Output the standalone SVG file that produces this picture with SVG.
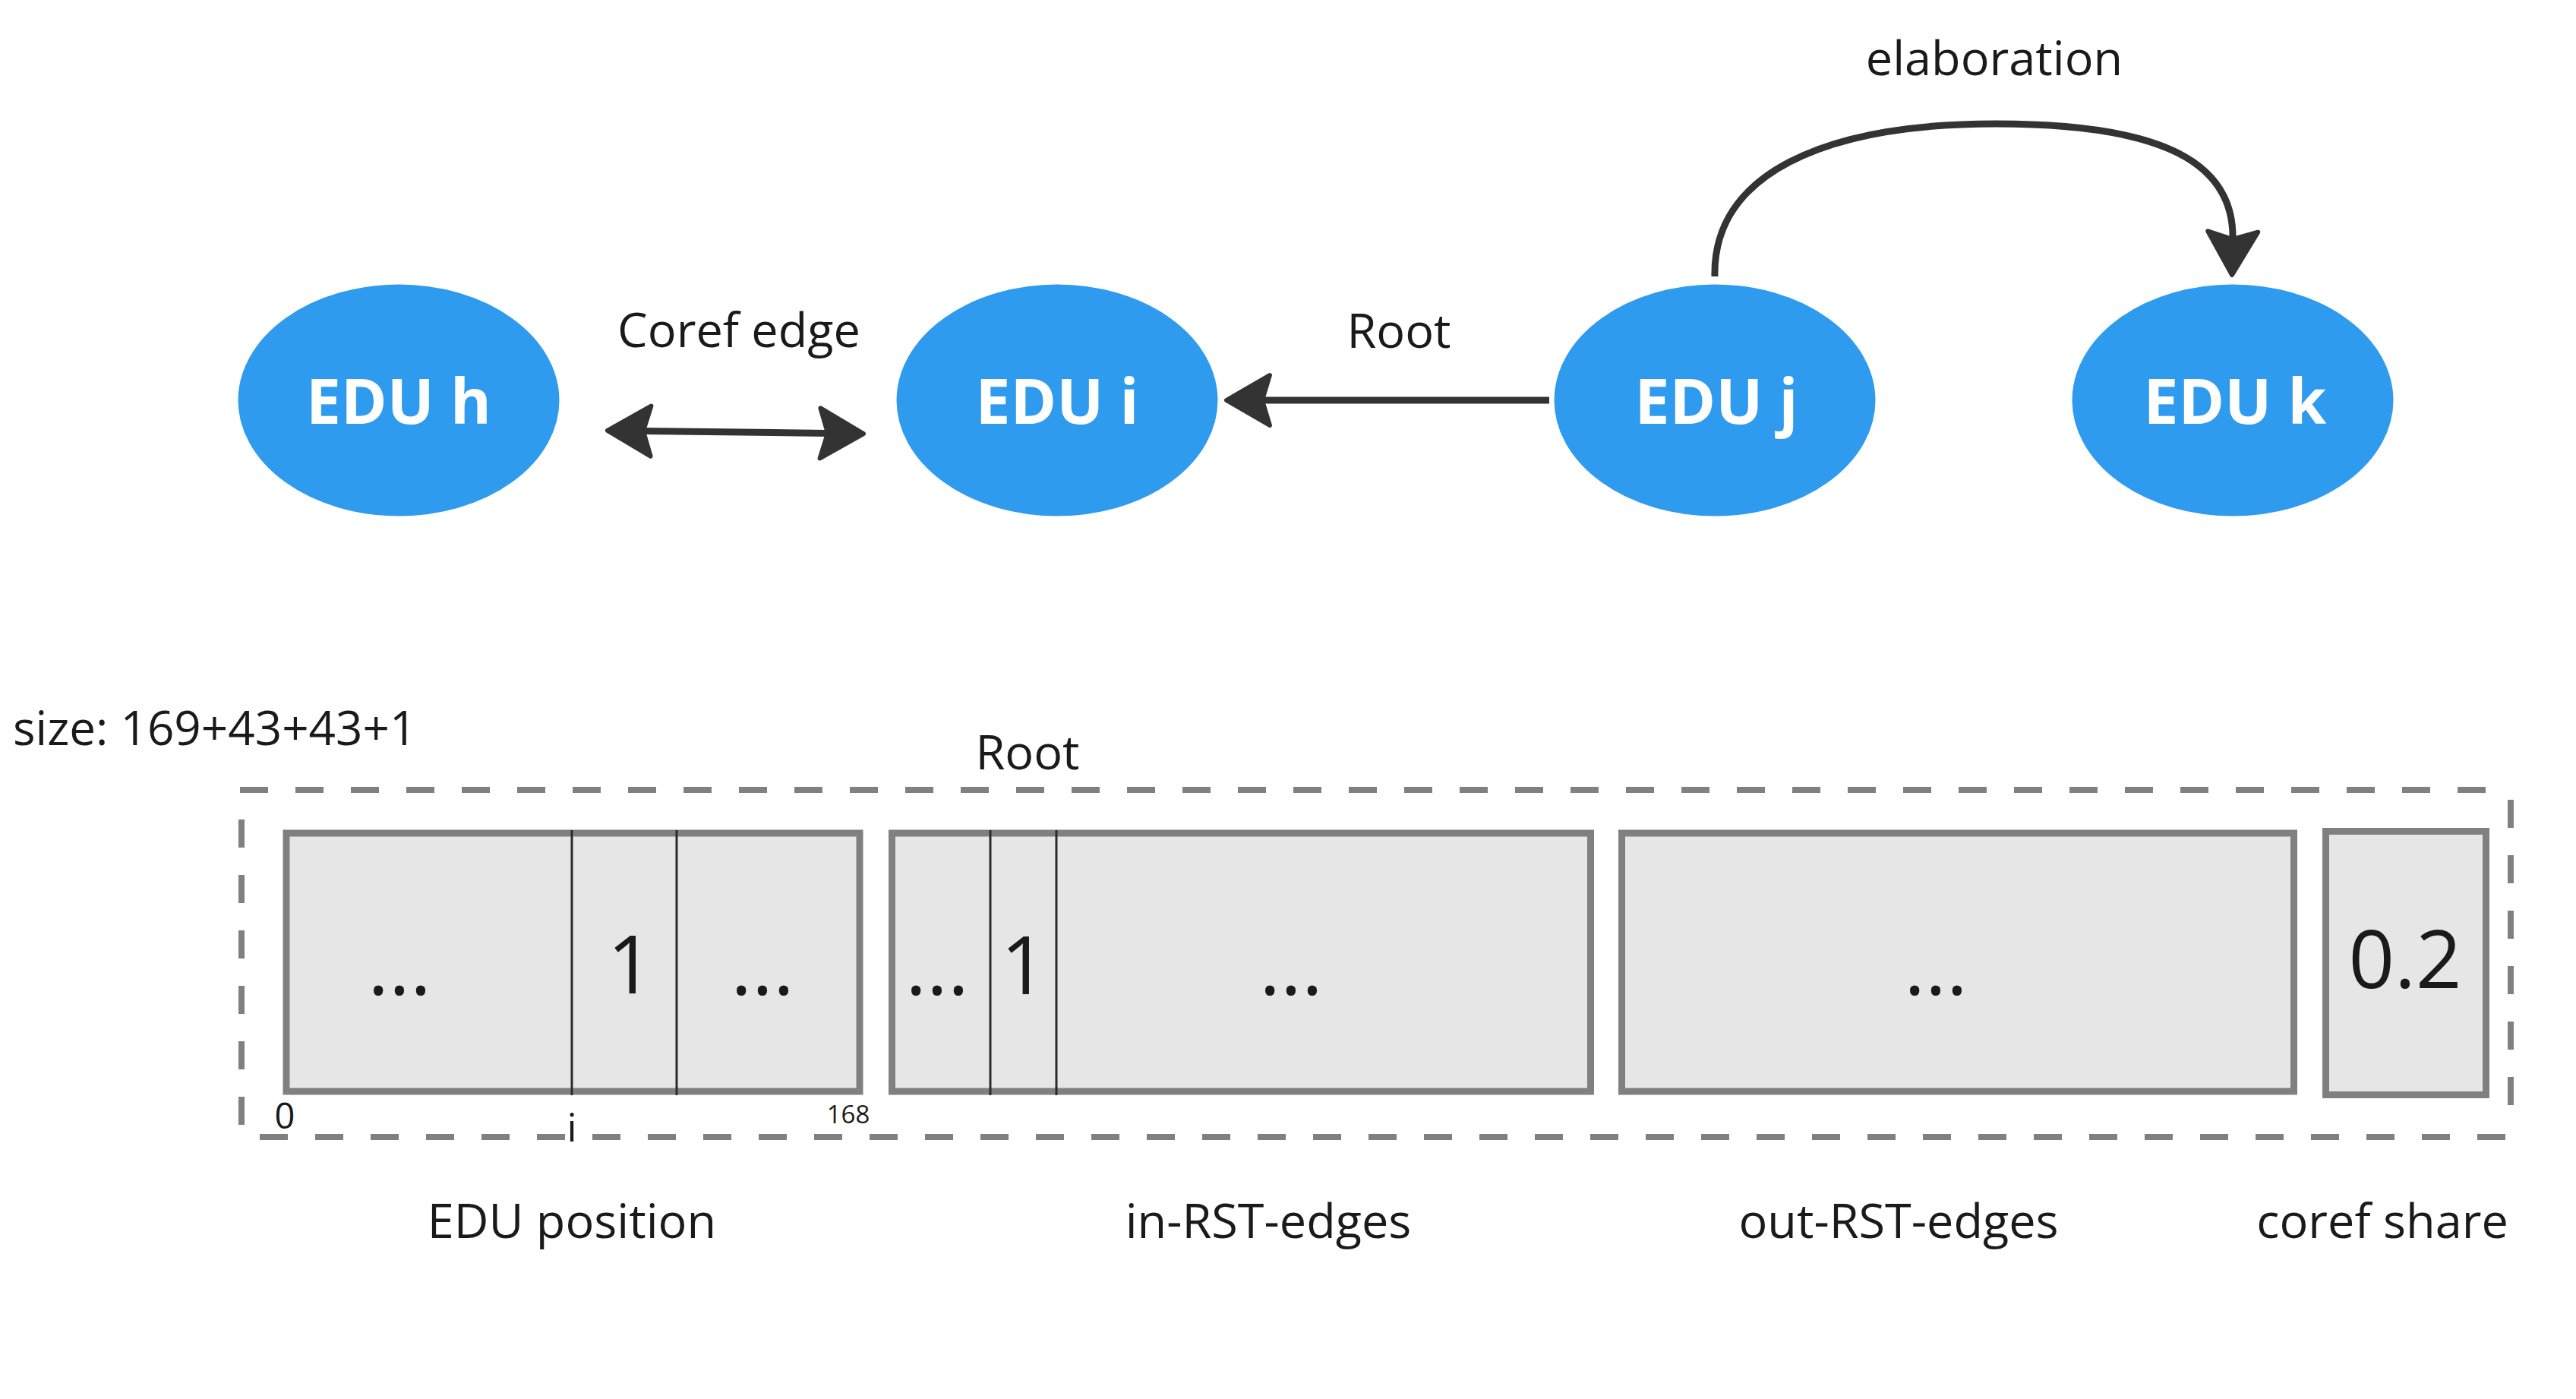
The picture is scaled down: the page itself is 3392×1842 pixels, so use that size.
<svg xmlns="http://www.w3.org/2000/svg" width="3392" height="1842" viewBox="0 0 3392 1842">
<style>
.node{fill:#2f9bef;stroke:#ffffff;stroke-width:5}
.nt{font-family:"Open Sans","Noto Sans",sans-serif;font-weight:700;font-size:82px;fill:#ffffff;text-anchor:middle}
.lb{font-family:"Open Sans","Noto Sans",sans-serif;font-size:63px;fill:#1a1a1a;text-anchor:middle}
.edge{fill:none;stroke:#333333;stroke-width:9}
.box{fill:#e6e6e6;stroke:#808080;stroke-width:9}
.div{stroke:#2b2b2b;stroke-width:3}
.dash{fill:none;stroke:#808080;stroke-width:8;stroke-dasharray:37 36}
.big{font-family:"Open Sans","Noto Sans",sans-serif;font-size:106px;fill:#1a1a1a;text-anchor:middle}
</style>
<defs>
<marker id="ah" markerUnits="userSpaceOnUse" viewBox="-10 -45 80 90" markerWidth="80" markerHeight="90" refX="10" refY="0" orient="auto-start-reverse" overflow="visible">
<path d="M57,0 L0,-33 L10,0 L0,33 Z" fill="#333333" stroke="#333333" stroke-width="6" stroke-linejoin="round"/>
</marker>
</defs>
<rect width="3392" height="1842" fill="#ffffff"/>

<g id="connectors">
<path class="edge" d="M847,567.5 L1090,570.5" marker-start="url(#ah)" marker-end="url(#ah)"/>
<path class="edge" d="M2040,527 L1662,527" marker-end="url(#ah)"/>
<path class="edge" d="M2258,364 C2255,230 2400,163 2628,163 C2850,163 2942,215 2940,315" marker-end="url(#ah)"/>
</g>
<g id="edge-labels">
<text class="lb" x="973" y="457">Coref edge</text>
<text class="lb" x="1842" y="458">Root</text>
<text class="lb" x="2626" y="99">elaboration</text>
</g>

<g id="edu-h"><ellipse class="node" cx="525" cy="527" rx="214" ry="155"/><text class="nt" x="525" y="558">EDU h</text></g>
<g id="edu-i"><ellipse class="node" cx="1392" cy="527" rx="214" ry="155"/><text class="nt" x="1392" y="558">EDU i</text></g>
<g id="edu-j"><ellipse class="node" cx="2258" cy="527" rx="214" ry="155"/><text class="nt" x="2260" y="558">EDU j</text></g>
<g id="edu-k"><ellipse class="node" cx="2940" cy="527" rx="214" ry="155"/><text class="nt" x="2943" y="558">EDU k</text></g>

<g id="vector">
<text x="17" y="981" font-family="'Open Sans','Noto Sans',sans-serif" font-size="62" fill="#1a1a1a">size: 169+43+43+1</text>
<text class="lb" x="1353" y="1013">Root</text>
<path class="dash" d="M316,1040 H3284"/>
<path class="dash" d="M3306,1053 V1458"/>
<path class="dash" d="M342,1497 H3310"/>
<path class="dash" d="M318,1079 V1484"/>

<g id="edu-position">
<rect class="box" x="377" y="1097" width="755" height="340"/>
<line class="div" x1="753" y1="1093" x2="753" y2="1442"/>
<line class="div" x1="891" y1="1093" x2="891" y2="1442"/>
<text class="big" x="526" y="1310">...</text>
<text class="big" x="830" y="1308" font-size="112">1</text>
<text class="big" x="1004" y="1310">...</text>
<text x="375" y="1486" font-family="'Open Sans','Noto Sans',sans-serif" font-size="47" fill="#1a1a1a" text-anchor="middle">0</text>
<text x="753" y="1503" font-family="'Open Sans','Noto Sans',sans-serif" font-size="52" fill="#1a1a1a" text-anchor="middle">i</text>
<text x="1117" y="1479" font-family="'Open Sans','Noto Sans',sans-serif" font-size="33" fill="#1a1a1a" text-anchor="middle">168</text>
</g>
<g id="in-rst-edges">
<rect class="box" x="1174.5" y="1097" width="920" height="340"/>
<line class="div" x1="1304" y1="1093" x2="1304" y2="1442"/>
<line class="div" x1="1391" y1="1093" x2="1391" y2="1442"/>
<text class="big" x="1234" y="1310">...</text>
<text class="big" x="1348" y="1309" font-size="112">1</text>
<text class="big" x="1700" y="1310">...</text>
</g>
<g id="out-rst-edges">
<rect class="box" x="2135.5" y="1097" width="885" height="340"/>
<text class="big" x="2549" y="1310">...</text>
</g>
<g id="coref-share">
<rect class="box" x="3062.5" y="1094.5" width="211" height="347"/>
<text class="big" x="3167" y="1301" font-size="82">0.2</text>
</g>
<text class="lb" x="753" y="1630">EDU position</text>
<text class="lb" x="1670" y="1630">in-RST-edges</text>
<text class="lb" x="2500" y="1630">out-RST-edges</text>
<text class="lb" x="3137" y="1630">coref share</text>
</g>
</svg>
